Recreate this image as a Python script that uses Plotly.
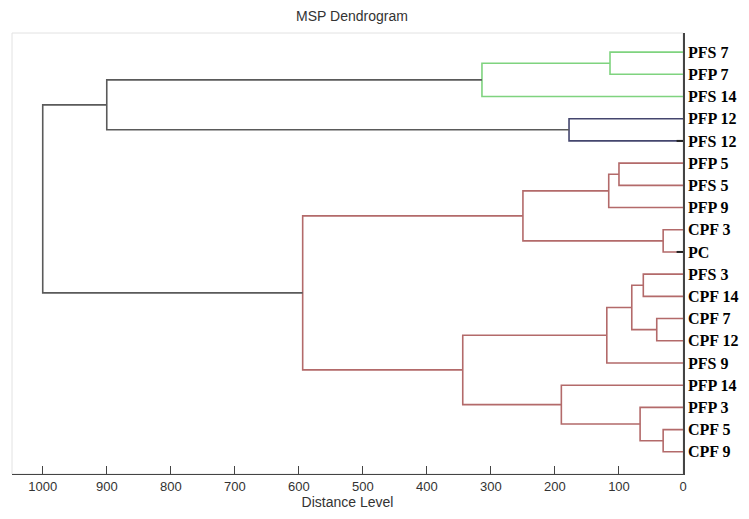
import plotly.graph_objects as go

# Leaves, top to bottom
leaves = ["PFS 7", "PFP 7", "PFS 14", "PFP 12", "PFS 12", "PFP 5", "PFS 5", "PFP 9",
          "CPF 3", "PC", "PFS 3", "CPF 14", "CPF 7", "CPF 12", "PFS 9", "PFP 14",
          "PFP 3", "CPF 5", "CPF 9"]

# Merges: (child_a, child_b, distance, colour group). Children: leaf names or merge indices (int)
merge_a = ["PFS 7", 0, "PFP 12", 1, "PFP 5", 4, "CPF 3", 5, "PFS 3", "CPF 7", 8, 10,
           "CPF 5", "PFP 3", "PFP 14", 11, 7, 3]
merge_b = ["PFP 7", "PFS 14", "PFS 12", 2, "PFS 5", "PFP 9", "PC", 6, "CPF 14", "CPF 12", 9,
           "PFS 9", "CPF 9", 12, 13, 14, 15, 16]
merge_h = [114, 314, 178, 900, 100, 116, 31, 250, 62, 41, 80, 119, 31, 67, 190, 344, 594, 1000]
merge_c = ["g", "g", "b", "k", "r", "r", "r", "r", "r", "r", "r", "r", "r", "r", "r", "r", "r", "k"]

# leaves drawn with a short dark stub in the original
stub_leaves = ["PFS 12", "PC"]

tick_vals = [1000, 900, 800, 700, 600, 500, 400, 300, 200, 100, 0]

colors = {"g": "#7fd37f", "b": "#44466e", "r": "#b36a6a", "k": "#5a5a5a"}
STUB_LEN = 10

leaf_y = {name: i for i, name in enumerate(leaves)}
node_pos = []  # (x, y) of each merge node


def pos(c):
    if isinstance(c, int):
        return node_pos[c]
    return (0, leaf_y[c])


fig = go.Figure()
for a, b, h, c in zip(merge_a, merge_b, merge_h, merge_c):
    xa, ya = pos(a)
    xb, yb = pos(b)
    fig.add_trace(go.Scatter(
        x=[xa, h, h, xb], y=[ya, ya, yb, yb], mode="lines",
        line=dict(color=colors[c], width=1.6), hoverinfo="skip", showlegend=False))
    node_pos.append((h, (ya + yb) / 2))

for s in stub_leaves:
    fig.add_trace(go.Scatter(
        x=[STUB_LEN, 0], y=[leaf_y[s], leaf_y[s]], mode="lines",
        line=dict(color="#222", width=2), hoverinfo="skip", showlegend=False))

sans = "Liberation Sans, Arial"
fig.update_layout(
    width=741, height=511,
    margin=dict(l=4, r=66, t=25, b=45, autoexpand=False),
    paper_bgcolor="white", plot_bgcolor="white",
    title=dict(text="MSP Dendrogram", x=0.4642, xanchor="center", y=0.985, yanchor="middle",
               font=dict(family=sans, size=14, color="#333")),
    xaxis=dict(range=[1048, 0], tickvals=tick_vals, ticks="inside", ticklen=8,
               tickcolor="#444", showline=True, linecolor="#444", linewidth=1.2,
               showgrid=False, zeroline=False, automargin=False,
               tickfont=dict(family=sans, size=13, color="#333"),
               title=dict(text="Distance Level", standoff=3,
                          font=dict(family=sans, size=14, color="#333"))),
    yaxis=dict(range=[19.0, -0.86], side="right", tickvals=list(range(len(leaves))),
               ticktext=leaves, ticks="", showline=True, linecolor="#444", linewidth=1.5,
               showgrid=False, zeroline=False, automargin=False,
               tickfont=dict(family="Liberation Serif, Times New Roman", size=16,
                             color="black", weight="bold")),
    shapes=[dict(type="rect", xref="paper", yref="paper", x0=0, x1=1, y0=0, y1=1,
                 line=dict(color="#e2e2e2", width=1), layer="below")],
)

fig.write_html("out.html")
